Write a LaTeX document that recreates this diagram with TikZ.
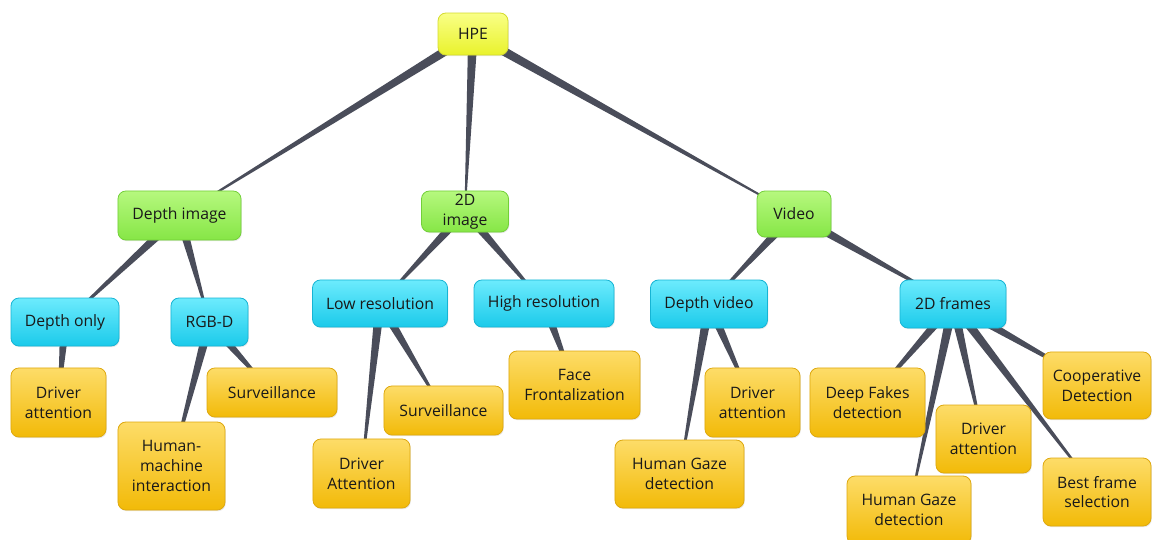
\documentclass[tikz,border=0pt]{standalone}
\usepackage{fontspec}
\setmainfont{Open Sans}
\usepackage{xcolor}
\usepackage{tikz}
\usetikzlibrary{calc,backgrounds,shadows}

\definecolor{hpetop}{HTML}{F9FF86}
\definecolor{hpebot}{HTML}{E9F22C}
\definecolor{hpeline}{HTML}{D4DB2E}
\definecolor{grntop}{HTML}{B6F87E}
\definecolor{grnbot}{HTML}{86E646}
\definecolor{grnline}{HTML}{72CF38}
\definecolor{cyntop}{HTML}{6CEBFD}
\definecolor{cynbot}{HTML}{1BCAEA}
\definecolor{cynline}{HTML}{16B4D4}
\definecolor{yeltop}{HTML}{FDDC68}
\definecolor{yelbot}{HTML}{F2BA08}
\definecolor{yelline}{HTML}{DEA80E}
\definecolor{linkgray}{HTML}{4A4D5A}

% tapered link, wide at the parent, thin at the child
\newcommand{\wedgelink}[2]{%
  \fill[linkgray] ($(#1)!3.6pt!90:(#2)$) -- ($(#2)!0.4pt!-90:(#1)$)
    -- ($(#2)!0.4pt!90:(#1)$) -- ($(#1)!3.6pt!-90:(#2)$) -- cycle;}

\tikzset{
  box/.style={rounded corners=6pt, line width=0.6pt, align=center,
    font=\fontsize{11.8pt}{14.8pt}\selectfont, text=black!90, inner sep=2pt,
    drop shadow={opacity=0.18, shadow xshift=0.6pt, shadow yshift=-0.9pt}},
  rootbox/.style={box, draw=hpeline, top color=hpetop, bottom color=hpebot},
  inputbox/.style={box, draw=grnline, top color=grntop, bottom color=grnbot},
  kindbox/.style={box, draw=cynline, top color=cyntop, bottom color=cynbot},
  usebox/.style={box, draw=yelline, top color=yeltop, bottom color=yelbot}
}

\begin{document}
\begin{tikzpicture}[x=0.75pt, y=-0.75pt]
  \useasboundingbox (0,0) rectangle (1152,539);

  % Root
  \node[rootbox, minimum width=52.5pt, minimum height=31.5pt] (hpe) at (473,34) {HPE};

  % Input types
  \node[inputbox, minimum width=92.3pt, minimum height=36.8pt] (depthimg) at (179.5,215.5) {Depth image};
  \node[inputbox, minimum width=65.3pt, minimum height=30.8pt] (img2d) at (465,211.5) {2D\\image};
  \node[inputbox, minimum width=55.5pt, minimum height=34.5pt] (video) at (794,214) {Video};

  % Sub types
  \node[kindbox, minimum width=81pt, minimum height=36pt] (depthonly) at (65,322) {Depth only};
  \node[kindbox, minimum width=57.8pt, minimum height=36pt] (rgbd) at (209.5,322) {RGB-D};
  \node[kindbox, minimum width=101.3pt, minimum height=35.3pt] (lowres) at (380,303.5) {Low resolution};
  \node[kindbox, minimum width=105pt, minimum height=35.3pt] (highres) at (544,303.5) {High resolution};
  \node[kindbox, minimum width=87.8pt, minimum height=36pt] (depthvid) at (709,304) {Depth video};
  \node[kindbox, minimum width=79.5pt, minimum height=36pt] (frames2d) at (953,304) {2D frames};

  % Applications
  \node[usebox, minimum width=71.3pt, minimum height=51.8pt] (drvdo) at (58.5,402.5) {Driver\\attention};
  \node[usebox, minimum width=97.5pt, minimum height=36.8pt] (survrgbd) at (272,392.5) {Surveillance};
  \node[usebox, minimum width=80.3pt, minimum height=66pt] (hmi) at (171.5,466) {Human-\\machine\\interaction};
  \node[usebox, minimum width=89.3pt, minimum height=36.8pt] (survlow) at (443.5,410.5) {Surveillance};
  \node[usebox, minimum width=72.8pt, minimum height=51.8pt] (drvlow) at (361.5,473.5) {Driver\\Attention};
  \node[usebox, minimum width=98.3pt, minimum height=51pt] (facefront) at (574.5,385) {Face\\Frontalization};
  \node[usebox, minimum width=71.3pt, minimum height=51.8pt] (drvdv) at (752.5,402.5) {Driver\\attention};
  \node[usebox, minimum width=96.8pt, minimum height=51pt] (gazedv) at (679.5,474) {Human Gaze\\detection};
  \node[usebox, minimum width=86.3pt, minimum height=51.8pt] (deepfake) at (867.5,402.5) {Deep Fakes\\detection};
  \node[usebox, minimum width=71.3pt, minimum height=51pt] (drvfr) at (983.5,439) {Driver\\attention};
  \node[usebox, minimum width=93pt, minimum height=51pt] (gazefr) at (909,510) {Human Gaze\\detection};
  \node[usebox, minimum width=81pt, minimum height=50.3pt] (coop) at (1097,385.5) {Cooperative\\Detection};
  \node[usebox, minimum width=81pt, minimum height=51pt] (bestfr) at (1097,492) {Best frame\\selection};

  % Links
  \begin{scope}[on background layer]
    \wedgelink{hpe}{depthimg}
    \wedgelink{hpe}{img2d}
    \wedgelink{hpe}{video}
    \wedgelink{depthimg}{depthonly}
    \wedgelink{depthimg}{rgbd}
    \wedgelink{img2d}{lowres}
    \wedgelink{img2d}{highres}
    \wedgelink{video}{depthvid}
    \wedgelink{video}{frames2d}
    \wedgelink{depthonly}{drvdo}
    \wedgelink{rgbd}{survrgbd}
    \wedgelink{rgbd}{hmi}
    \wedgelink{lowres}{survlow}
    \wedgelink{lowres}{drvlow}
    \wedgelink{highres}{facefront}
    \wedgelink{depthvid}{drvdv}
    \wedgelink{depthvid}{gazedv}
    \wedgelink{frames2d}{deepfake}
    \wedgelink{frames2d}{gazefr}
    \wedgelink{frames2d}{drvfr}
    \wedgelink{frames2d}{bestfr}
    \wedgelink{frames2d}{coop}
  \end{scope}
\end{tikzpicture}
\end{document}
